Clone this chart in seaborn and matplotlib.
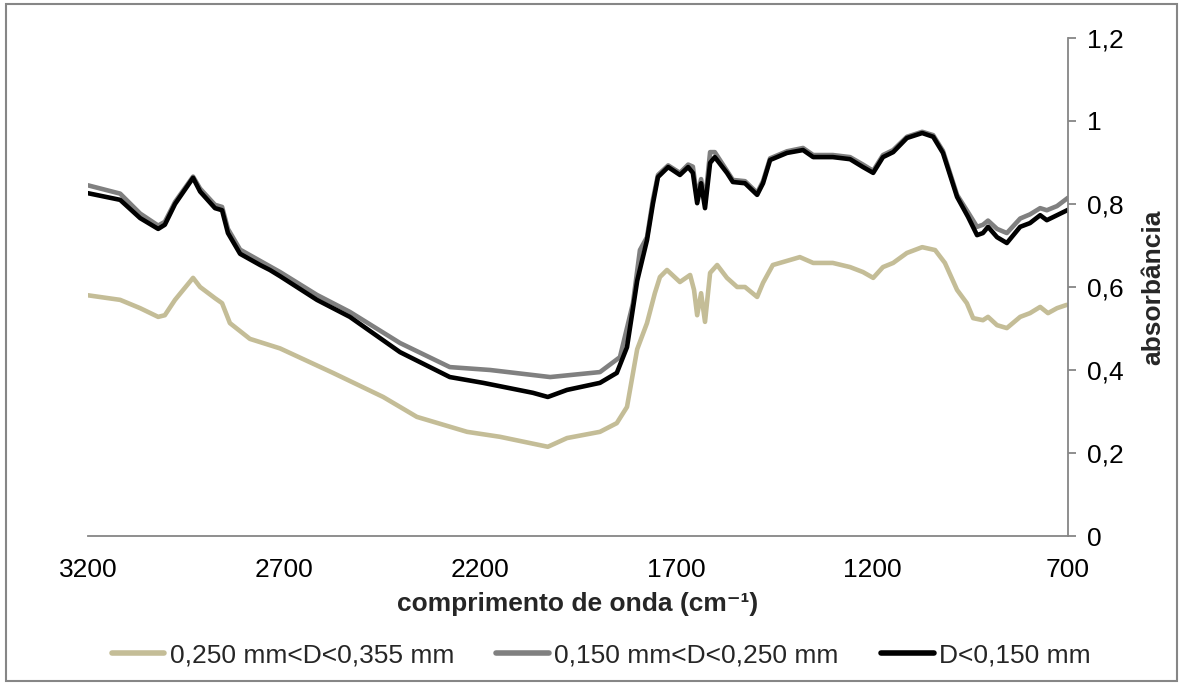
import numpy as np
import pandas as pd
import matplotlib
matplotlib.use("Agg")
import matplotlib.pyplot as plt
import seaborn as sns
from matplotlib.patches import Rectangle
from matplotlib.ticker import FuncFormatter, FixedLocator, MultipleLocator

# ---- data (wavenumber cm-1, absorbance) ----
wn_c = [3200, 3118, 3067, 3021, 3004, 2978, 2932, 2914, 2876, 2858, 2838, 2787, 2710,
        2575, 2447, 2361, 2233, 2149, 2027, 1978, 1894, 1851, 1825, 1799, 1774, 1754,
        1741, 1723, 1690, 1664, 1654, 1646, 1636, 1626, 1613, 1595, 1570, 1544, 1524,
        1493, 1478, 1453, 1384, 1350, 1300, 1256, 1223, 1197, 1172, 1146, 1111, 1072,
        1039, 1014, 983, 958, 942, 917, 904, 881, 856, 822, 797, 771, 751, 728, 703]
abs_c = [0.580, 0.569, 0.549, 0.528, 0.532, 0.569, 0.622, 0.600, 0.573, 0.561, 0.513, 0.475, 0.452,
         0.393, 0.335, 0.287, 0.251, 0.239, 0.215, 0.236, 0.251, 0.272, 0.311, 0.450, 0.513, 0.585,
         0.624, 0.641, 0.612, 0.629, 0.593, 0.532, 0.585, 0.516, 0.634, 0.653, 0.622, 0.600, 0.600,
         0.576, 0.610, 0.653, 0.672, 0.658, 0.658, 0.648, 0.636, 0.622, 0.648, 0.658, 0.682, 0.696,
         0.689, 0.658, 0.593, 0.561, 0.525, 0.520, 0.528, 0.508, 0.501, 0.528, 0.537, 0.552, 0.537, 0.549, 0.557]

wn_m = [3200, 3118, 3067, 3021, 3004, 2978, 2932, 2914, 2876, 2858, 2843, 2812, 2761, 2710,
        2616, 2532, 2404, 2277, 2174, 2021, 1894, 1843, 1810, 1792, 1774, 1759, 1746, 1720,
        1690, 1669, 1657, 1646, 1636, 1626, 1613, 1601, 1570, 1555, 1524, 1493, 1478, 1460,
        1417, 1376, 1350, 1300, 1256, 1223, 1197, 1172, 1146, 1111, 1072, 1044, 1019, 983,
        955, 932, 917, 904, 881, 856, 822, 797, 771, 754, 728, 700]
abs_m = [0.845, 0.825, 0.777, 0.748, 0.757, 0.805, 0.866, 0.837, 0.798, 0.793, 0.740, 0.690, 0.663, 0.636,
         0.581, 0.540, 0.465, 0.407, 0.400, 0.383, 0.395, 0.431, 0.560, 0.689, 0.720, 0.810, 0.870, 0.893,
         0.875, 0.895, 0.890, 0.815, 0.860, 0.805, 0.925, 0.925, 0.880, 0.858, 0.855, 0.827, 0.855, 0.910,
         0.927, 0.935, 0.918, 0.918, 0.913, 0.895, 0.880, 0.918, 0.930, 0.962, 0.974, 0.966, 0.928, 0.822,
         0.780, 0.745, 0.750, 0.760, 0.740, 0.730, 0.765, 0.775, 0.790, 0.785, 0.795, 0.815]

wn_f = [3200, 3118, 3067, 3021, 3004, 2978, 2932, 2914, 2876, 2858, 2843, 2812, 2761, 2736, 2710,
        2616, 2532, 2404, 2277, 2192, 2065, 2027, 1978, 1894, 1851, 1825, 1799, 1774, 1759, 1746,
        1720, 1690, 1669, 1657, 1646, 1636, 1626, 1613, 1601, 1570, 1555, 1524, 1493, 1478, 1460,
        1417, 1376, 1350, 1300, 1256, 1223, 1197, 1172, 1146, 1111, 1072, 1044, 1019, 983, 955,
        932, 917, 904, 881, 856, 822, 797, 771, 754, 728, 700]
abs_f = [0.826, 0.810, 0.766, 0.740, 0.750, 0.800, 0.863, 0.830, 0.790, 0.785, 0.730, 0.680, 0.653, 0.641, 0.626,
         0.569, 0.528, 0.443, 0.383, 0.369, 0.345, 0.335, 0.352, 0.369, 0.393, 0.455, 0.615, 0.713, 0.800, 0.865,
         0.889, 0.870, 0.889, 0.875, 0.802, 0.850, 0.790, 0.899, 0.913, 0.875, 0.853, 0.850, 0.822, 0.850, 0.906,
         0.923, 0.930, 0.913, 0.913, 0.908, 0.889, 0.875, 0.913, 0.925, 0.959, 0.971, 0.962, 0.923, 0.817, 0.769,
         0.725, 0.730, 0.745, 0.720, 0.706, 0.745, 0.754, 0.773, 0.761, 0.773, 0.786]

x_ticks = [3200, 2700, 2200, 1700, 1200, 700]
labels = ["0,250 mm<D<0,355 mm", "0,150 mm<D<0,250 mm", "D<0,150 mm"]
colors = ["#C4BD97", "#808080", "#000000"]

df = pd.concat([
    pd.DataFrame({"wn": wn_c, "abs": abs_c, "serie": labels[0]}),
    pd.DataFrame({"wn": wn_m, "abs": abs_m, "serie": labels[1]}),
    pd.DataFrame({"wn": wn_f, "abs": abs_f, "serie": labels[2]}),
], ignore_index=True)

sns.set_style("white")
plt.rcParams["font.family"] = ["Liberation Sans", "DejaVu Sans"]

fig = plt.figure(figsize=(11.83, 6.84), dpi=100)
ax = fig.add_axes([88 / 1183, 148 / 684, 980 / 1183, 498 / 684])

sns.lineplot(data=df, x="wn", y="abs", hue="serie", hue_order=labels,
             palette=colors, linewidth=3.3, sort=False, estimator=None,
             ax=ax, legend=False)

ax.set_xlim(3200, 700)
ax.set_ylim(0, 1.2)
ax.xaxis.set_major_locator(FixedLocator(x_ticks))
ax.yaxis.set_major_locator(MultipleLocator(0.2))
ax.yaxis.set_major_formatter(FuncFormatter(
    lambda v, p: ("%g" % round(v, 2)).replace(".", ",")))
ax.xaxis.set_major_formatter(FuncFormatter(lambda v, p: "%d" % v))

ax.yaxis.tick_right()
ax.yaxis.set_label_position("right")
for s in ["top", "left"]:
    ax.spines[s].set_visible(False)
for s in ["bottom", "right"]:
    ax.spines[s].set_color("#868686")
    ax.spines[s].set_linewidth(1.3)
ax.tick_params(axis="both", which="major", direction="out", length=6, width=1.3,
               color="#868686", labelsize=19, labelcolor="black")
ax.tick_params(axis="x", pad=10)
ax.tick_params(axis="y", pad=8)

ax.set_xlabel("comprimento de onda (cm⁻¹)", fontsize=19, fontweight="bold", labelpad=7)
ax.set_ylabel("absorbância", fontsize=19, fontweight="bold", labelpad=12)

handles = [plt.Line2D([], [], color=c, linewidth=4) for c in colors]
fig.legend(handles, labels, loc="center", bbox_to_anchor=(601 / 1183, 1 - 655 / 684),
           ncol=3, frameon=False, fontsize=19, handlelength=2.0, handletextpad=0.2,
           columnspacing=1.6)

fig.patches.append(Rectangle((6 / 1183, 3 / 684), 1171 / 1183, 677 / 684,
                             transform=fig.transFigure, fill=False,
                             edgecolor="#868686", linewidth=1.5))

fig.savefig("out.png", dpi=100, facecolor="white")
